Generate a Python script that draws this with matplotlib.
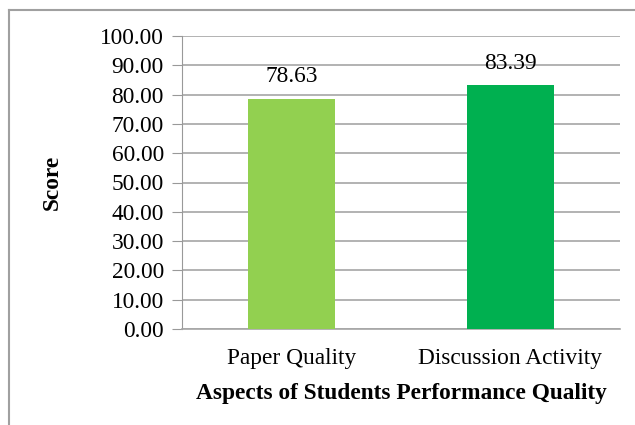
import matplotlib
matplotlib.use("Agg")
import matplotlib.pyplot as plt
from matplotlib.lines import Line2D

# Data
categories = ["Paper Quality", "Discussion Activity"]
scores = [78.63, 83.39]
bar_colors = ["#92D050", "#00B050"]
yticks = [0, 10, 20, 30, 40, 50, 60, 70, 80, 90, 100]

plt.rcParams["font.family"] = ["Liberation Serif", "DejaVu Serif"]
fs = 16.8

W, H = 635, 425
fig = plt.figure(figsize=(W / 100, H / 100), dpi=100)
ax = fig.add_axes([182 / W, 1 - 329 / H, (620 - 182) / W, (329 - 36) / H])

x = range(len(categories))
bars = ax.bar(x, scores, width=0.4, color=bar_colors, zorder=3)

# Value labels above bars
for b, v in zip(bars, scores):
    ax.text(b.get_x() + b.get_width() / 2, v + 3.8, f"{v:.2f}",
            ha="center", va="bottom", fontsize=fs, zorder=1)

ax.set_xlim(-0.5, len(categories) - 0.5)
ax.set_ylim(0, 100)
ax.set_yticks(yticks)
ax.set_yticklabels([f"{t:.2f}" for t in yticks], fontsize=fs)
ax.set_xticks(list(x))
ax.set_xticklabels(categories, fontsize=fs)
ax.tick_params(axis="x", length=0, pad=14)
ax.tick_params(axis="y", length=7, color="#999999", pad=6)

ax.yaxis.grid(True, color="#A6A6A6", linewidth=1.2, zorder=0)
ax.set_axisbelow(True)
for s in ["top", "right"]:
    ax.spines[s].set_visible(False)
ax.spines["left"].set_color("#999999")
ax.spines["bottom"].set_color("#A6A6A6")
ax.spines["bottom"].set_linewidth(1.2)

ax.set_xlabel("Aspects of Students Performance Quality", fontsize=fs,
              fontweight="bold", labelpad=10)
ax.set_ylabel("Score", fontsize=fs, fontweight="bold", labelpad=27)

# Outer chart frame (left and top edges visible)
fig.add_artist(Line2D([8.5 / W, 8.5 / W], [0, 1 - 10 / H],
                      transform=fig.transFigure, color="#A0A0A0", lw=1.5))
fig.add_artist(Line2D([8.5 / W, 1], [1 - 10 / H, 1 - 10 / H],
                      transform=fig.transFigure, color="#A0A0A0", lw=1.5))

fig.savefig("out.png", dpi=100)
